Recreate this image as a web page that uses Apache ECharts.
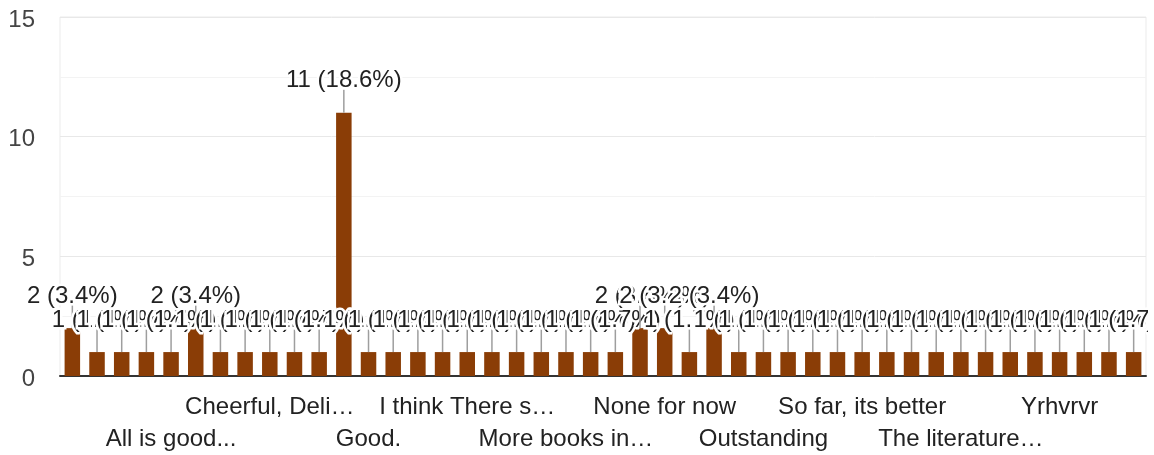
<!DOCTYPE html>
<html>
<head>
<meta charset="utf-8">
<script src="https://cdn.jsdelivr.net/npm/echarts@6/dist/echarts.min.js"></script>
<style>
  html, body { margin: 0; padding: 0; background: #fff; }
  #chart { width: 1154px; height: 455px; }
</style>
</head>
<body>
<div id="chart"></div>
<script>
// Response categories (alphabetical, as in the form summary)
const categories = [
  "Adequate", "All good", "All good services", "All is fine", "All is good...",
  "Amazing", "Best library", "Calm environment", "Cheerful, Deli\u2026", "Clean and quiet",
  "Excellent", "Good", "Good.", "Great", "Helpful staff",
  "I like it", "I think There s\u2026", "It's okay", "Keep it up", "More books",
  "More books in\u2026", "More computers", "Nice", "None", "None for now",
  "Nothing", "Ok", "Okay", "Outstanding", "Perfect",
  "Quiet place", "Satisfactory", "So far, its better", "Spacious", "Superb",
  "Thank you", "The literature\u2026", "The staff are kind", "Very good", "Wonderful",
  "Yrhvrvr", "Yup", "Zealous staff", "Zero complaints"
];
const counts = [
  2, 1, 1, 1, 1,
  2, 1, 1, 1, 1,
  1, 11, 1, 1, 1,
  1, 1, 1, 1, 1,
  1, 1, 1, 2, 2,
  1, 2, 1, 1, 1,
  1, 1, 1, 1, 1,
  1, 1, 1, 1, 1,
  1, 1, 1, 1
];
const yTicks = [0, 5, 10, 15];

const total = counts.reduce((a, b) => a + b, 0);
const FONT = '"Liberation Sans", Arial, sans-serif';
const FS = 24;

const chart = echarts.init(document.getElementById('chart'), null, { renderer: 'canvas' });

function labelCfg(row) {
  return {
    interval: function (i) { return i >= 4 && i % 4 === 0 && ((i / 4) % 2 === (row === 1 ? 0 : 1)); },
    showMinLabel: true, showMaxLabel: true, hideOverlap: false,
    color: '#222', fontFamily: FONT, fontSize: FS, lineHeight: 28,
    margin: row === 1 ? 17 : 49
  };
}

chart.setOption({
  animation: false,
  grid: { left: 60, right: 8, top: 17, bottom: 79, show: true, borderColor: '#ebebeb', borderWidth: 1 },
  xAxis: [
    {
      type: 'category',
      data: categories,
      axisLine: { lineStyle: { color: '#333', width: 2 } },
      axisTick: { show: false },
      axisLabel: labelCfg(1)
    },
    {
      type: 'category',
      data: categories,
      position: 'bottom',
      offset: 0,
      axisLine: { show: false },
      axisTick: { show: false },
      splitLine: { show: false },
      axisLabel: labelCfg(2)
    }
  ],
  yAxis: {
    type: 'value',
    min: yTicks[0], max: yTicks[yTicks.length - 1], interval: 5,
    axisLine: { show: false },
    axisTick: { show: false },
    axisLabel: { color: '#444', fontFamily: FONT, fontSize: FS, margin: 25, verticalAlign: 'top', lineHeight: 6 },
    splitLine: { lineStyle: { color: '#e8e8e8', width: 1 } },
    minorTick: { show: false, splitNumber: 2 },
    minorSplitLine: { show: true, lineStyle: { color: '#f3f3f3', width: 1 } }
  },
  series: [
    {
      type: 'bar',
      data: counts,
      barWidth: 15.5,
      itemStyle: { color: '#8a3d06' },
      z: 2
    },
    {
      type: 'custom',
      data: counts.map((v, i) => [i, v]),
      z: 3,
      renderItem: function (params, api) {
        const p = api.coord([api.value(0), api.value(1)]);
        const v = api.value(1);
        const txt = v + ' (' + (v / total * 100).toFixed(1) + '%)';
        return {
          type: 'group',
          children: [
            { type: 'line', shape: { x1: p[0], y1: p[1], x2: p[0], y2: p[1] - 23 },
              style: { stroke: '#9e9e9e', lineWidth: 1.5 } },
            { type: 'text', style: { text: txt, x: p[0], y: p[1] - 32, align: 'center', verticalAlign: 'middle',
              font: FS + 'px ' + FONT, fill: '#fff', stroke: '#fff', lineWidth: 5 } },
            { type: 'text', style: { text: txt, x: p[0], y: p[1] - 32, align: 'center', verticalAlign: 'middle',
              font: FS + 'px ' + FONT, fill: '#222' } }
          ]
        };
      }
    }
  ],
  graphic: [
    { type: 'rect', shape: { x: 1148, y: 0, width: 10, height: 376 }, style: { fill: '#fff' }, z: 100 }
  ]
});
</script>
</body>
</html>
